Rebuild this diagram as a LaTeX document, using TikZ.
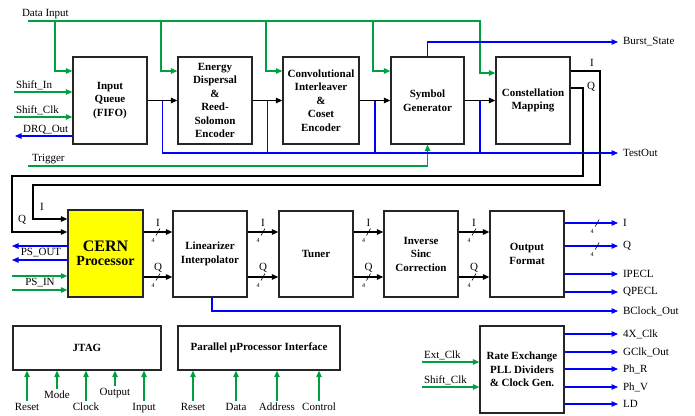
\documentclass[tikz,border=0pt]{standalone}
\usepackage{fontspec}
\setmainfont{Liberation Serif}
\usetikzlibrary{arrows.meta, calc}
\definecolor{vert}{HTML}{00A040}
\definecolor{bleu}{HTML}{0000FF}
\definecolor{jaune}{HTML}{FFFF00}
\tikzset{
  boite/.style={rectangle, draw=black!85, line width=1.3pt, fill=white,
    font=\fontsize{11}{13.5}\selectfont\bfseries, align=center,
    minimum width=74pt, minimum height=87pt, inner sep=1pt},
  liaison/.style={-{Triangle[length=6.5pt,width=5.5pt]}, line width=1.1pt},
  commande/.style={liaison, color=vert},
  sortie/.style={liaison, color=bleu},
  derive/.style={line width=1.1pt, color=bleu},
  etiq/.style={font=\fontsize{11}{12}\selectfont, inner sep=1.5pt, text=black},
  largeur/.pic={
    \draw[-, black, line width=0.6pt] (-2pt,-3.5pt) -- (2pt,3.5pt);
    \node[font=\fontsize{6}{6}\selectfont, inner sep=0pt, text=black] at (-5pt,-8.5pt) {4};
  }
}

\begin{document}
\begin{tikzpicture}[x=1pt, y=-1pt]
  \useasboundingbox (0,0) rectangle (695,415);

  % chaine d'emission
  \node[boite] (fifo) at (110,100.5) {Input\\ Queue\\ (FIFO)};
  \node[boite] (rs) at (215,100.5) {Energy\\ Dispersal\\ \&\\ Reed-\\ Solomon\\ Encoder};
  \node[boite, minimum width=76pt] (entrelac) at (321,100.5) {Convolutional\\ Interleaver\\ \&\\ Coset\\ Encoder};
  \node[boite, minimum width=73pt] (symb) at (427.5,100.5) {Symbol\\ Generator};
  \node[boite] (constel) at (533,100.5) {Constellation\\ Mapping};

  % traitement I/Q
  \node[boite, fill=jaune, minimum width=75pt] (cern) at (105.5,253.5)
    {{\fontsize{16}{18}\selectfont CERN}\\ {\fontsize{14}{16}\selectfont Processor}};
  \node[boite, minimum height=86pt] (lineaire) at (210,254) {Linearizer\\ Interpolator};
  \node[boite, minimum height=86pt] (tuner) at (316,254) {Tuner};
  \node[boite, minimum height=86pt] (sinc) at (421,254) {Inverse\\ Sinc\\ Correction};
  \node[boite, minimum height=86pt] (format) at (527,254) {Output\\ Format};

  % blocs de service
  \node[boite, minimum width=148pt, minimum height=44pt] (jtag) at (87,348) {JTAG};
  \node[boite, minimum width=162pt, minimum height=44pt] (micro) at (259,348) {Parallel µProcessor Interface};
  \node[boite, minimum width=84pt] (horloge) at (522,369.5) {Rate Exchange\\ PLL Dividers\\ \& Clock Gen.};

  % flux de donnees
  \draw[liaison] (fifo) -- (rs);
  \draw[liaison] (rs) -- (entrelac);
  \draw[liaison] (entrelac) -- (symb);
  \draw[liaison] (symb) -- (constel);

  % entree des donnees
  \coordinate (donnees) at (28,21);
  \draw[commande] (donnees) node[etiq, above right, xshift=-8pt] {Data Input}
    -- (480,21) |- (constel.west |- 0,73);
  \foreach \x/\b in {55/fifo, 161/rs, 266/entrelac, 373/symb}
    \draw[commande] (\x,21) |- (\b.west |- 0,71);

  \coordinate (shin) at (14,92);
  \coordinate (shclk) at (14,117);
  \coordinate (drq) at (15,136);
  \coordinate (trig) at (28,166);
  \draw[commande] (shin) node[etiq, above right] {Shift\_In} -- (fifo.west |- shin);
  \draw[commande] (shclk) node[etiq, above right] {Shift\_Clk} -- (fifo.west |- shclk);
  \draw[sortie] (fifo.west |- drq) -- node[etiq, above, xshift=2pt] {DRQ\_Out} (drq);
  \draw[commande] (trig) node[etiq, above right, xshift=2pt] {Trigger} -| (symb.south);

  % sorties de test
  \coordinate (test) at (618,153);
  \coordinate (burst) at (618,42);
  \draw[sortie] ($(fifo.east)!.5!(rs.west)$) |- (test) node[etiq, right=3pt] {TestOut};
  \foreach \a/\b in {rs/entrelac, entrelac/symb, symb/constel} {
    \path ($(\a.east)!.5!(\b.west)$) coordinate (t);
    \draw[derive] (t) -- (t |- test);
  }
  \draw[sortie] (symb.north) |- (burst) node[etiq, right=3pt] {Burst\_State};

  % retour I et Q
  \draw[liaison] (constel.east |- 0,71) -| (600,185) -- (33,185) |- (cern.west |- 0,219);
  \draw[liaison] (constel.east |- 0,88) -| (583,176) -- (12,176) |- (cern.west |- 0,232);
  \node[etiq] (retI) at (592,63) {I};
  \node[etiq] (retQ) at (591,87) {Q};
  \node[etiq] (entI) at (42,207) {I};
  \node[etiq] (entQ) at (22,220) {Q};

  % port PS
  \coordinate (psa) at (12,246);
  \coordinate (psb) at (12,260);
  \coordinate (psc) at (12,276);
  \coordinate (psd) at (12,290);
  \draw[sortie] (cern.west |- psa) -- (psa);
  \draw[sortie] (cern.west |- psb) -- (psb);
  \draw[commande] (psc) -- (cern.west |- psc);
  \draw[commande] (psd) -- (cern.west |- psd);
  \node[etiq] (psout) at (41,253) {PS\_OUT};
  \node[etiq] (psin) at (40,283) {PS\_IN};

  % bus I/Q sur 4 bits
  \foreach \a/\b in {cern/lineaire, lineaire/tuner, tuner/sinc, sinc/format} {
    \draw[liaison] (\a.east |- 0,232) -- (\b.west |- 0,232)
      pic[pos=.5] {largeur} node[etiq, pos=.5, above=3pt] {I};
    \draw[liaison] (\a.east |- 0,277) -- (\b.west |- 0,277)
      pic[pos=.5] {largeur} node[etiq, pos=.5, above=3pt] {Q};
  }

  % sorties
  \coordinate (sI) at (618,223);
  \coordinate (sQ) at (618,246);
  \coordinate (sIp) at (618,274);
  \coordinate (sQp) at (618,292);
  \coordinate (bck) at (618,311);
  \draw[sortie] (format.east |- sI) -- (sI) pic[pos=.61] {largeur} node[etiq, right=3pt] {I};
  \draw[sortie] (format.east |- sQ) -- (sQ) pic[pos=.61] {largeur} node[etiq, right=3pt] {Q};
  \draw[sortie] (format.east |- sIp) -- (sIp) node[etiq, right=3pt] {IPECL};
  \draw[sortie] (format.east |- sQp) -- (sQp) node[etiq, right=3pt] {QPECL};
  \draw[sortie] ([xshift=2pt]lineaire.south) |- (bck) node[etiq, right=3pt] {BClock\_Out};

  % JTAG et interface processeur
  \foreach \x/\y/\t in {27/401/Reset, 57/389/Mode, 86/401/Clock, 115/386/Output, 144/401/Input} {
    \coordinate (j\t) at (\x,\y);
    \draw[commande] (j\t) node[etiq, below] {\t} -- (jtag.south -| j\t);
  }
  \foreach \x/\t in {193/Reset, 236/Data, 277/Address, 319/Control} {
    \coordinate (m\t) at (\x,401);
    \draw[commande] (m\t) node[etiq, below] {\t} -- (micro.south -| m\t);
  }

  % horloges
  \coordinate (ext) at (422,362);
  \coordinate (shc) at (422,387);
  \draw[commande] (ext) node[etiq, above right] {Ext\_Clk} -- (horloge.west |- ext);
  \draw[commande] (shc) node[etiq, above right] {Shift\_Clk} -- (horloge.west |- shc);
  \foreach \y/\t in {334/4X\_Clk, 352/GClk\_Out, 369/Ph\_R, 387/Ph\_V, 404/LD} {
    \coordinate (h) at (618,\y);
    \draw[sortie] (horloge.east |- h) -- (h) node[etiq, right=3pt] {\t};
  }
\end{tikzpicture}
\end{document}
